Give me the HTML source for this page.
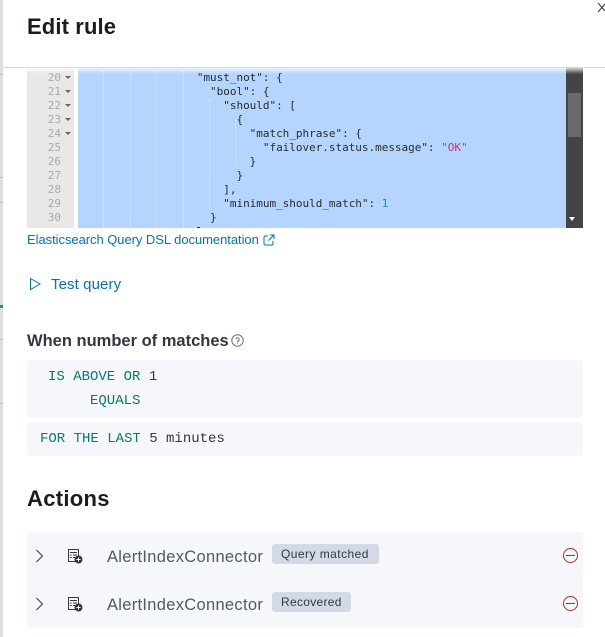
<!DOCTYPE html>
<html><head><meta charset="utf-8"><style>
html,body{margin:0;padding:0;background:#fff}
#p{position:relative;width:605px;height:637px;overflow:hidden;background:#fff;font-family:"Liberation Sans",sans-serif}
#p div,#p span.a{position:absolute;white-space:pre}
.c{font:11px/14px "DejaVu Sans Mono",monospace;color:#2b2b2b;left:78px;letter-spacing:-.02px}
.n{font:11px/14px "DejaVu Sans Mono",monospace;color:#a9a9a9;left:37px;width:24px;text-align:right}
.t{left:65px;width:0;height:0;border-left:3px solid transparent;border-right:3px solid transparent;border-top:3px solid #666}
.g{width:0;border-left:1px dotted #fff;top:71px}
.m{font:14px/20px "Liberation Mono",monospace;color:#343741}
.k{color:#017d73}
.box{background:#f5f7fa;border-radius:4px}
.sl{left:0;width:3px;height:1px;background:#b9c0cc}
</style></head><body><div id="p">
<div style="left:0;top:0;width:3px;height:637px;background:#dedede"></div>
<div class="sl" style="top:74px"></div><div class="sl" style="top:177px"></div><div class="sl" style="top:202px"></div>
<div style="left:0;top:305px;width:3px;height:3px;background:#2f8f7f"></div>
<div class="sl" style="top:339px"></div><div class="sl" style="top:403px"></div>

<div style="left:27px;top:13px;font-size:22px;line-height:28px;font-weight:700;color:#1a1c21;letter-spacing:.12px">Edit rule</div>
<svg style="position:absolute;left:597px;top:2px" width="8" height="12"><path d="M1 1L8 9M1 10L8 2" stroke="#343741" stroke-width="1" fill="none"/></svg>

<div style="left:27px;top:68px;width:47px;height:160px;background:#e8e8e8"></div>
<div style="left:78px;top:68px;width:488px;height:160px;background:#b5d5ff"></div>
<div style="left:566px;top:68px;width:17px;height:160px;background:#444"></div>
<div style="left:568px;top:93px;width:13px;height:44px;background:#6a6a6a"></div>
<div style="left:569px;top:217px;width:0;height:0;border-left:3.5px solid transparent;border-right:3.5px solid transparent;border-top:4px solid #fff"></div>

<div class="g" style="left:103px;height:157px"></div>
<div class="g" style="left:130px;height:157px"></div>
<div class="g" style="left:156px;height:157px"></div>
<div class="g" style="left:183px;height:157px"></div>
<div class="g" style="left:209px;top:98px;height:112px"></div>
<div class="g" style="left:235px;top:120px;height:48px"></div>

<div class="n" style="top:71px">20</div><div class="t" style="top:76px"></div>
<div class="n" style="top:85px">21</div><div class="t" style="top:90px"></div>
<div class="n" style="top:99px">22</div><div class="t" style="top:104px"></div>
<div class="n" style="top:113px">23</div><div class="t" style="top:118px"></div>
<div class="n" style="top:127px">24</div><div class="t" style="top:132px"></div>
<div class="n" style="top:141px">25</div>
<div class="n" style="top:155px">26</div>
<div class="n" style="top:169px">27</div>
<div class="n" style="top:183px">28</div>
<div class="n" style="top:197px">29</div>
<div class="n" style="top:211px">30</div>

<div class="c" style="top:71px">                  "must_not": {</div>
<div class="c" style="top:85px">                    "bool": {</div>
<div class="c" style="top:99px">                      "should": [</div>
<div class="c" style="top:113px">                        {</div>
<div class="c" style="top:127px">                          "match_phrase": {</div>
<div class="c" style="top:141px">                            "failover.status.message": <span style="color:#d6336c">"OK"</span></div>
<div class="c" style="top:155px">                          }</div>
<div class="c" style="top:169px">                        }</div>
<div class="c" style="top:183px">                      ],</div>
<div class="c" style="top:197px">                      "minimum_should_match": <span style="color:#0b9aa8">1</span></div>
<div class="c" style="top:211px">                    }</div>
<div style="left:197px;top:227px;width:3px;height:1px;background:#333"></div>

<div style="left:27px;top:232px;font-size:13px;line-height:16px;color:#0071c2;letter-spacing:-.05px">Elasticsearch Query DSL documentation</div>
<svg style="position:absolute;left:263px;top:234px" width="12" height="12" fill="none" stroke="#0071c2" stroke-width="1"><path d="M5 2H2.5A1.5 1.5 0 0 0 1 3.5V9.500A1.500 1.500 0 0 0 2.500 11H8.500A1.500 1.500 0 0 0 10 9.500V7M7 1H11V5M11 1L5.500 6.500"/></svg>

<svg style="position:absolute;left:29px;top:277px" width="13" height="14" fill="none" stroke="#0071c2" stroke-width="1"><path d="M1.500 1.500L11 7L1.500 12.500Z"/></svg>
<div style="left:51px;top:276px;font-size:15px;line-height:18px;color:#0071c2;letter-spacing:.1px">Test query</div>

<div style="left:27px;top:331px;font-size:16.500px;line-height:20px;font-weight:700;color:#343741">When number of matches</div>
<svg style="position:absolute;left:231px;top:334px" width="13" height="13" fill="none" stroke="#69707d" stroke-width="1"><circle cx="6.500" cy="6.500" r="5.700"/><path d="M4.800 5.200A1.700 1.700 0 1 1 6.500 7.200V8M6.500 9.200V10"/></svg>

<div class="box" style="left:27px;top:360px;width:556px;height:58px"></div>
<div class="box" style="left:27px;top:422px;width:556px;height:34px"></div>
<div class="m" style="left:48px;top:367px"><span class="k">IS ABOVE OR</span> 1</div>
<div class="m k" style="left:90px;top:391px">EQUALS</div>
<div class="m" style="left:40px;top:429px"><span class="k">FOR THE LAST</span> 5 minutes</div>

<div style="left:27px;top:485px;font-size:22px;line-height:28px;font-weight:700;color:#1a1c21;letter-spacing:.3px">Actions</div>

<div style="left:27px;top:532px;width:556px;height:96px;background:#f5f7fa"></div>

<svg style="position:absolute;left:35px;top:549px" width="9" height="14" fill="none" stroke="#343741" stroke-width="1"><path d="M1.500 1L7.500 7L1.500 13"/></svg>
<svg style="position:absolute;left:35px;top:597px" width="9" height="14" fill="none" stroke="#343741" stroke-width="1"><path d="M1.500 1L7.500 7L1.500 13"/></svg>

<svg style="position:absolute;left:68px;top:549px" width="15" height="15"><rect x=".5" y=".5" width="10" height="12" fill="none" stroke="#343741"/><path d="M2 3.500H9M2 6H3.500M5 6H9M2 8.500H3.500M5 8.500H7" stroke="#343741"/><circle cx="10.500" cy="10.500" r="4" fill="#343741"/><path d="M8.500 10.500H12.500M10.500 8.500V12.500" stroke="#fff"/></svg>
<svg style="position:absolute;left:68px;top:597px" width="15" height="15"><rect x=".5" y=".5" width="10" height="12" fill="none" stroke="#343741"/><path d="M2 3.500H9M2 6H3.500M5 6H9M2 8.500H3.500M5 8.500H7" stroke="#343741"/><circle cx="10.500" cy="10.500" r="4" fill="#343741"/><path d="M8.500 10.500H12.500M10.500 8.500V12.500" stroke="#fff"/></svg>

<div style="left:107px;top:547px;font-size:16.500px;line-height:20px;color:#535966;letter-spacing:.3px">AlertIndexConnector</div>
<div style="left:107px;top:595px;font-size:16.500px;line-height:20px;color:#535966;letter-spacing:.3px">AlertIndexConnector</div>

<div style="left:272px;top:544px;width:107px;height:20px;background:#d3dae6;border-radius:3px"></div>
<div style="left:281px;top:546px;font-size:12px;line-height:16px;color:#343741;letter-spacing:.45px">Query matched</div>
<div style="left:272px;top:592px;width:79px;height:20px;background:#d3dae6;border-radius:3px"></div>
<div style="left:281px;top:594px;font-size:12px;line-height:16px;color:#343741;letter-spacing:.3px">Recovered</div>

<svg style="position:absolute;left:562px;top:547px" width="17" height="17" fill="none" stroke="#bd271e" stroke-width="1"><circle cx="8.500" cy="8.500" r="7"/><path d="M4 8.500H13"/></svg>
<svg style="position:absolute;left:562px;top:595px" width="17" height="17" fill="none" stroke="#bd271e" stroke-width="1"><circle cx="8.500" cy="8.500" r="7"/><path d="M4 8.500H13"/></svg>

<div style="left:3px;top:67px;width:602px;height:1px;background:#d3dae6"></div>
<div style="left:27px;top:68px;width:556px;height:6px;background:linear-gradient(#fff,rgba(255,255,255,0));opacity:.75"></div>
</div></body></html>
